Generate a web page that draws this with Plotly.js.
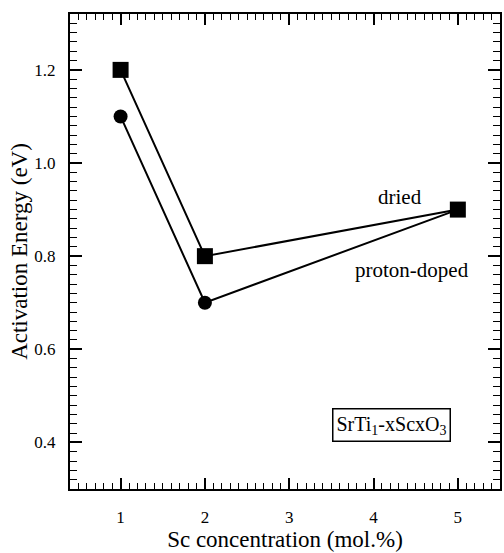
<!DOCTYPE html>
<html>
<head>
<meta charset="utf-8">
<script src="https://cdn.plot.ly/plotly-3.0.1.min.js"></script>
<style>html,body{margin:0;padding:0;background:#fff;}#chart{width:504px;height:553px;}</style>
</head>
<body>
<div id="chart"></div>
<script>
const concentration = [1, 2, 5];
const driedEnergy = [1.2, 0.8, 0.9];
const protonEnergy = [1.1, 0.7, 0.9];
const xTickVals = [1, 2, 3, 4, 5];
const yTickVals = [0.4, 0.6, 0.8, 1.0, 1.2];
const yTickText = ['0.4', '0.6', '0.8', '1.0', '1.2'];

const FONT = 'Liberation Serif';

const traces = [
  {x: concentration, y: protonEnergy, mode: 'lines+markers', name: 'proton-doped',
   line: {color: 'black', width: 2}, marker: {symbol: 'circle', size: 14, color: 'black'}},
  {x: concentration, y: driedEnergy, mode: 'lines+markers', name: 'dried',
   line: {color: 'black', width: 2}, marker: {symbol: 'square', size: 16, color: 'black'}}
];

const layout = {
  width: 504, height: 553,
  margin: {l: 70, r: 4, t: 14, b: 64},
  showlegend: false,
  font: {family: FONT, color: 'black', size: 17},
  xaxis: {
    range: [0.4, 5.5], tickvals: xTickVals, ticktext: xTickVals.map(String),
    ticks: 'inside', ticklen: 11, tickwidth: 2, tickcolor: 'black',
    minor: {dtick: 0.1, tick0: 0, ticks: 'inside', ticklen: 6, tickwidth: 1, tickcolor: 'black'},
    showline: true, linecolor: 'black', linewidth: 2, mirror: 'ticks',
    showgrid: false, zeroline: false, ticklabelstandoff: 12,
    tickfont: {family: FONT, size: 17, color: 'black'},
    title: {text: 'Sc concentration (mol.%)', font: {family: FONT, size: 23, color: 'black'}, standoff: 2}
  },
  yaxis: {
    range: [0.3, 1.32], tickvals: yTickVals, ticktext: yTickText,
    ticks: 'inside', ticklen: 12, tickwidth: 2, tickcolor: 'black',
    minor: {dtick: 0.02, tick0: 0, ticks: 'inside', ticklen: 7, tickwidth: 1, tickcolor: 'black'},
    showline: true, linecolor: 'black', linewidth: 2, mirror: 'ticks',
    showgrid: false, zeroline: false, ticklabelstandoff: 9,
    tickfont: {family: FONT, size: 17, color: 'black'},
    title: {text: 'Activation Energy (eV)', font: {family: FONT, size: 23, color: 'black'}, standoff: 0}
  },
  annotations: [
    {x: 4.31, y: 0.927, xref: 'x', yref: 'y', text: 'dried', showarrow: false,
     font: {family: FONT, size: 21, color: 'black'}},
    {x: 4.46, y: 0.771, xref: 'x', yref: 'y', text: 'proton-doped', showarrow: false,
     font: {family: FONT, size: 21, color: 'black'}},
    {x: 4.21, y: 0.438, xref: 'x', yref: 'y', text: 'SrTi<sub>1</sub>-xScxO<sub>3</sub>', showarrow: false,
     font: {family: FONT, size: 20, color: 'black'},
     bordercolor: 'black', borderwidth: 1.5, borderpad: 3, bgcolor: 'white'}
  ]
};

Plotly.newPlot('chart', traces, layout, {displayModeBar: false});
</script>
</body>
</html>
